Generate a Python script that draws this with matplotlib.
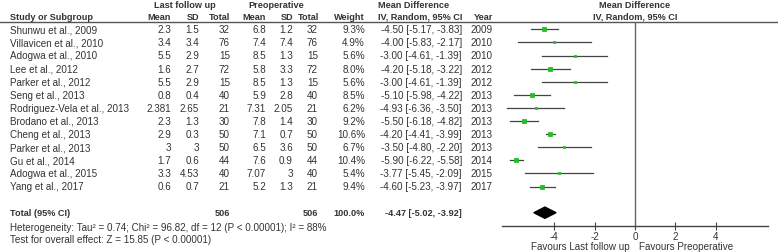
import matplotlib
matplotlib.use("Agg")
import matplotlib.pyplot as plt
import numpy as np

plt.rcParams['font.family'] = ['Liberation Sans', 'DejaVu Sans']

# data
studies = ["Shunwu et al., 2009", "Villavicen et al., 2010", "Adogwa et al., 2010",
           "Lee et al., 2012", "Parker et al., 2012", "Seng et al., 2013",
           "Rodriguez-Vela et al., 2013", "Brodano et al., 2013", "Cheng et al., 2013",
           "Parker et al., 2013", "Gu et al., 2014", "Adogwa et al., 2015", "Yang et al., 2017"]
lf_mean = [2.3, 3.4, 5.5, 1.6, 5.5, 0.8, 2.381, 2.3, 2.9, 3, 1.7, 3.3, 0.6]
lf_sd = [1.5, 3.4, 2.9, 2.7, 2.9, 0.4, 2.65, 1.3, 0.3, 3, 0.6, 4.53, 0.7]
lf_n = [32, 76, 15, 72, 15, 40, 21, 30, 50, 50, 44, 40, 21]
pre_mean = [6.8, 7.4, 8.5, 5.8, 8.5, 5.9, 7.31, 7.8, 7.1, 6.5, 7.6, 7.07, 5.2]
pre_sd = [1.2, 7.4, 1.3, 3.3, 1.3, 2.8, 2.05, 1.4, 0.7, 3.6, 0.9, 3, 1.3]
pre_n = [32, 76, 15, 72, 15, 40, 21, 30, 50, 50, 44, 40, 21]
weight = [9.3, 4.9, 5.6, 8.0, 5.6, 8.5, 6.2, 9.2, 10.6, 6.7, 10.4, 5.4, 9.4]
md = [-4.50, -4.00, -3.00, -4.20, -3.00, -5.10, -4.93, -5.50, -4.20, -3.50, -5.90, -3.77, -4.60]
ci_lo = [-5.17, -5.83, -4.61, -5.18, -4.61, -5.98, -6.36, -6.18, -4.41, -4.80, -6.22, -5.45, -5.23]
ci_hi = [-3.83, -2.17, -1.39, -3.22, -1.39, -4.22, -3.50, -4.82, -3.99, -2.20, -5.58, -2.09, -3.97]
years = [2009, 2010, 2010, 2012, 2012, 2013, 2013, 2013, 2013, 2013, 2014, 2015, 2017]
total_weight = 100.0
total_md, total_lo, total_hi = -4.47, -5.02, -3.92
xticks = [-4, -2, 0, 2, 4]

W, H = 778, 253
txt = '#333333'
fs = 7.1
hfs = 6.6

fig = plt.figure(figsize=(W / 100, H / 100), dpi=100)
tab = fig.add_axes([0, 0, 1, 1])
tab.set_xlim(0, W)
row0, step = 30.3, 13.1
tab.set_ylim((H - row0) / step, -row0 / step)
tab.axis('off')

def t(x, y, s, ha='right', bold=False, size=fs):
    tab.text(x, y, s, ha=ha, va='center', fontsize=size, color=txt,
             fontweight='bold' if bold else 'normal')

# headers
t(185, -1.93, "Last follow up", ha='center', bold=True, size=hfs)
t(276, -1.93, "Preoperative", ha='center', bold=True, size=hfs)
t(414, -1.93, "Mean Difference", ha='center', bold=True, size=hfs)
t(635, -1.93, "Mean Difference", ha='center', bold=True, size=hfs)
hy = -1.0
t(10, hy, "Study or Subgroup", ha='left', bold=True, size=hfs)
for x, s in [(171, "Mean"), (199, "SD"), (230, "Total"), (266, "Mean"), (293, "SD"),
             (319, "Total"), (365, "Weight"), (462, "IV, Random, 95% CI"), (493, "Year")]:
    t(x, hy, s, bold=True, size=hfs)
t(635, hy, "IV, Random, 95% CI", ha='center', bold=True, size=hfs)
tab.axhline(-0.534, color='#555555', lw=1.0)

for i, name in enumerate(studies):
    t(10, i, name, ha='left')
    t(171, i, f"{lf_mean[i]:g}")
    t(199, i, f"{lf_sd[i]:g}")
    t(230, i, str(lf_n[i]))
    t(266, i, f"{pre_mean[i]:g}")
    t(293, i, f"{pre_sd[i]:g}")
    t(318, i, str(pre_n[i]))
    t(365, i, f"{weight[i]:.1f}%")
    t(462, i, f"{md[i]:.2f} [{ci_lo[i]:.2f}, {ci_hi[i]:.2f}]")
    t(493, i, str(years[i]))

ty = 14
t(10, ty, "Total (95% CI)", ha='left', bold=True, size=hfs)
t(230, ty, str(sum(lf_n)), bold=True, size=hfs)
t(318, ty, str(sum(pre_n)), bold=True, size=hfs)
t(365, ty, f"{total_weight:.1f}%", bold=True, size=hfs)
t(462, ty, f"{total_md:.2f} [{total_lo:.2f}, {total_hi:.2f}]", bold=True, size=hfs)
t(10, 15.07, "Heterogeneity: Tau² = 0.74; Chi² = 96.82, df = 12 (P < 0.00001); I² = 88%", ha='left')
t(10, 16.02, "Test for overall effect: Z = 15.85 (P < 0.00001)", ha='left')

# forest panel
top_px, bot_px = 23.3, 227.3
ax = fig.add_axes([502 / W, (H - bot_px) / H, 266 / W, (bot_px - top_px) / H])
ax.set_xlim(-6.6, 6.6)
ax.set_ylim((bot_px - row0) / step, (top_px - row0) / step)
ax.patch.set_alpha(0)
for sp in ['top', 'right', 'left']:
    ax.spines[sp].set_visible(False)
ax.spines['bottom'].set_color('#444444')
ax.spines['bottom'].set_linewidth(1.0)
ax.axvline(0, color='#666666', lw=1.0)
ax.set_yticks([])
ax.set_xticks(xticks)
ax.set_xticklabels([str(v) for v in xticks])
ax.tick_params(axis='x', direction='inout', length=6, width=0.8, color='#444444',
               labelsize=fs, labelcolor=txt, pad=0.5)

for i in range(len(studies)):
    ax.plot([ci_lo[i], ci_hi[i]], [i, i], color='#444444', lw=0.9)
    ax.plot(md[i], i, marker='s', color='#22c022', ms=0.8 * np.sqrt(weight[i]),
            mec='#22c022', mew=0.6)

h = 0.43
ax.fill([total_lo, total_md, total_hi, total_md], [ty, ty - h, ty, ty + h], color='black')

fig.text(630 / W, (H - 247.3) / H, "Favours Last follow up", ha='right', va='center',
         fontsize=fs, color=txt)
fig.text(639 / W, (H - 247.3) / H, "Favours Preoperative", ha='left', va='center',
         fontsize=fs, color=txt)

fig.savefig("out.png", dpi=100)
